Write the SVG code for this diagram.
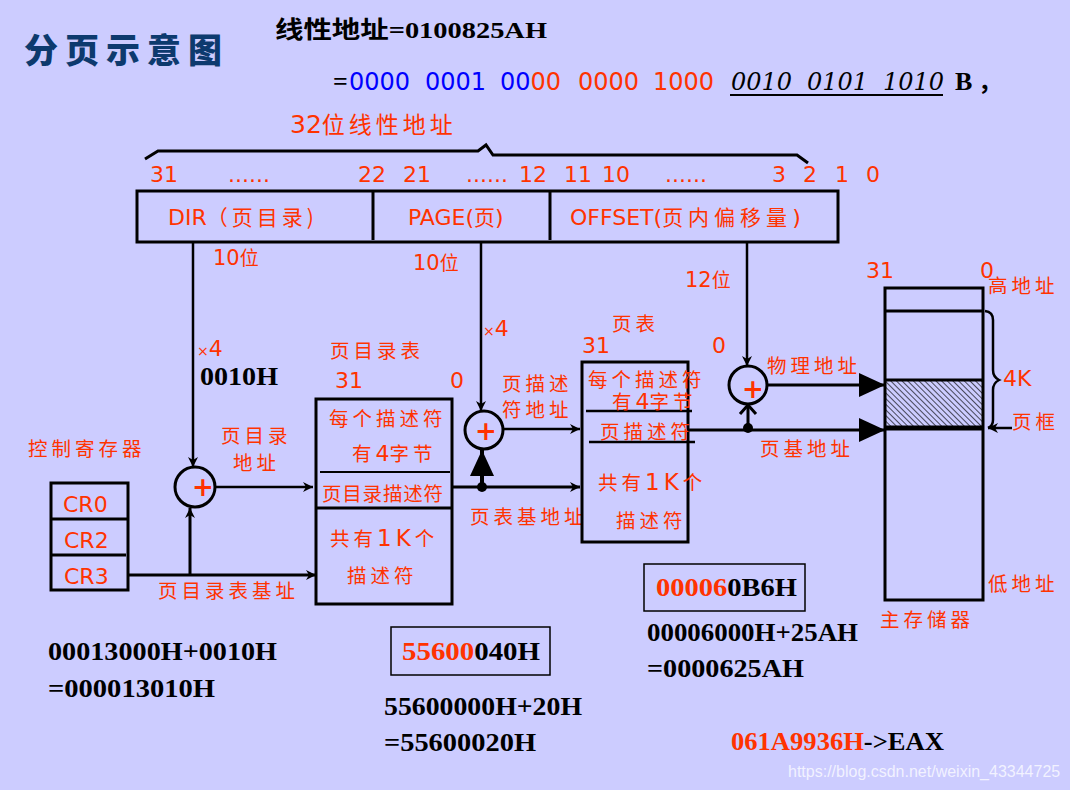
<svg xmlns="http://www.w3.org/2000/svg" width="1070" height="790" viewBox="0 0 1070 790">
<style>
.r{fill:#FF3300;font-family:"DejaVu Sans","Noto Sans CJK SC",sans-serif}
.c{fill:#FF3300;font-family:"Noto Sans CJK SC",sans-serif;font-size:19.5px;letter-spacing:4px}
.b{fill:#000;font-family:"Liberation Serif","Noto Sans CJK SC",serif;font-weight:bold;font-size:26px}
.ln{stroke:#000;fill:none}
.box{stroke:#000;stroke-width:3;fill:none}
</style>
<defs>
<marker id="a" markerUnits="userSpaceOnUse" markerWidth="10" markerHeight="10" refX="10" refY="5" orient="auto"><path d="M0,0 L10,5 L0,10 L3,5 z" fill="#000"/></marker>
<marker id="big" markerUnits="userSpaceOnUse" markerWidth="26" markerHeight="24" refX="26" refY="12" orient="auto"><path d="M0,0 L26,12 L0,24 z" fill="#000"/></marker>
<pattern id="hatch" width="4" height="4" patternUnits="userSpaceOnUse" patternTransform="rotate(-45)"><line x1="0" y1="0" x2="0" y2="4" stroke="#000" stroke-width="1.3"/></pattern>
</defs>
<rect width="1070" height="790" fill="#CCCCFF"/>

<g id="title">
<text x="24" y="63" font-family="Noto Sans CJK SC,sans-serif" font-weight="900" font-size="34" fill="#0D3A6E" letter-spacing="7">分页示意图</text>
</g>
<g id="linear-address">
<text x="275" y="38" font-family="Liberation Serif,Noto Sans CJK SC,serif" font-weight="bold" font-size="24" fill="#000" textLength="272" lengthAdjust="spacingAndGlyphs">线性地址=0100825AH</text>
<text x="333" y="90" font-family="Liberation Serif,serif" font-weight="bold" font-size="26" fill="#000">=</text>
<g font-family="DejaVu Sans,sans-serif" font-size="24">
<text x="349" y="90" fill="#0000FF">0000</text>
<text x="425" y="90" fill="#0000FF">0001</text>
<text x="500" y="90" fill="#0000FF">00<tspan fill="#FF3300">00</tspan></text>
<text x="578" y="90" fill="#FF3300">0000</text>
<text x="653" y="90" fill="#FF3300">1000</text>
</g>
<g font-family="DejaVu Serif,serif" font-style="italic" font-size="24" fill="#000">
<text x="731" y="90">0010</text>
<text x="807" y="90">0101</text>
<text x="883" y="90">1010</text>
</g>
<line x1="730" y1="95" x2="943" y2="95" stroke="#000" stroke-width="2"/>
<text x="955" y="90" font-family="Liberation Serif,serif" font-weight="bold" font-size="26" fill="#000">B</text>
<text x="978" y="90" font-family="Noto Sans CJK SC,sans-serif" font-weight="bold" font-size="24" fill="#000">，</text>
</g>

<g id="bits-label">
<text x="290" y="133" class="r" font-size="25">32<tspan font-family="Noto Sans CJK SC,sans-serif" font-size="23" letter-spacing="4">位线性地址</tspan></text>
<path class="ln" stroke-width="3" d="M145,159 L158,151 L478,151 L486,145 L493,155 L797,155 L808,163"/>
<g class="r" font-size="22">
<text x="150" y="182">31</text><text x="228" y="182">......</text>
<text x="358" y="182">22</text><text x="403" y="182">21</text>
<text x="466" y="182">......</text><text x="519" y="182">12</text>
<text x="564" y="182">11</text><text x="602" y="182">10</text>
<text x="665" y="182">......</text>
<text x="772" y="182">3</text><text x="803" y="182">2</text><text x="835" y="182">1</text><text x="866" y="182">0</text>
</g>
</g>

<g id="address-fields">
<rect x="137" y="191" width="701" height="51" class="box"/>
<line x1="373" y1="191" x2="373" y2="240" stroke="#000" stroke-width="3"/>
<line x1="550" y1="191" x2="550" y2="240" stroke="#000" stroke-width="3"/>
<text x="168" y="225" class="r" font-size="22">DIR<tspan font-family="Noto Sans CJK SC,sans-serif" font-size="21" letter-spacing="4">（页目录)</tspan></text>
<text x="408" y="225" class="r" font-size="22">PAGE(<tspan font-family="Noto Sans CJK SC,sans-serif" font-size="21">页</tspan>)</text>
<text x="570" y="225" class="r" font-size="22">OFFSET(<tspan font-family="Noto Sans CJK SC,sans-serif" font-size="21" letter-spacing="5">页内偏移量</tspan>)</text>
</g>

<g id="labels">
<text x="213" y="265" class="r" font-size="21">10<tspan font-family="Noto Sans CJK SC,sans-serif" font-size="19">位</tspan></text>
<text x="413" y="270" class="r" font-size="21">10<tspan font-family="Noto Sans CJK SC,sans-serif" font-size="19">位</tspan></text>
<text x="685" y="287" class="r" font-size="21">12<tspan font-family="Noto Sans CJK SC,sans-serif" font-size="19">位</tspan></text>
<text x="197" y="356" class="r" font-size="22"><tspan font-size="14">×</tspan>4</text>
<text x="483" y="336" class="r" font-size="22"><tspan font-size="14">×</tspan>4</text>
<text x="200" y="385" class="b" font-size="24" textLength="78" lengthAdjust="spacingAndGlyphs">0010H</text>
<text x="28" y="456" class="c" letter-spacing="5">控制寄存器</text>
<text x="221" y="443" class="c" letter-spacing="7">页目录</text>
<text x="233" y="470" class="c">地址</text>
<text x="158" y="598" class="c" letter-spacing="4">页目录表基址</text>
<text x="502" y="391" class="c">页描述</text>
<text x="502" y="417" class="c">符地址</text>
<text x="470" y="524" class="c">页表基地址</text>
<text x="767" y="373" class="c">物理地址</text>
<text x="760" y="456" class="c">页基地址</text>
</g>

<g id="control-registers">
<rect x="51" y="483" width="77" height="107" class="box"/>
<line x1="51" y1="519" x2="128" y2="519" stroke="#000" stroke-width="3"/>
<line x1="51" y1="555" x2="126" y2="555" stroke="#000" stroke-width="3"/>
<text x="63" y="512" class="r" font-size="22">CR0</text>
<text x="64" y="548" class="r" font-size="22">CR2</text>
<text x="64" y="584" class="r" font-size="22">CR3</text>
</g>

<g id="page-directory">
<text x="330" y="358" class="c" letter-spacing="6">页目录表</text>
<text x="335" y="388" class="r" font-size="22">31</text>
<text x="450" y="388" class="r" font-size="22">0</text>
<rect x="316" y="399" width="136" height="205" class="box"/>
<line x1="320" y1="472" x2="450" y2="472" stroke="#000" stroke-width="2"/>
<line x1="316" y1="508" x2="452" y2="508" stroke="#000" stroke-width="3"/>
<text x="329" y="426" class="c" letter-spacing="2">每个描述符</text>
<text x="352" y="461" class="c"><tspan>有</tspan><tspan class="r" font-size="22" letter-spacing="0">4</tspan>字节</text>
<text x="322" y="501" class="c" font-size="17" letter-spacing="0" textLength="125" lengthAdjust="spacing">页目录描述符</text>
<text x="330" y="546" class="c" letter-spacing="0">共有<tspan class="r" font-size="23">1K</tspan>个</text>
<text x="347" y="583" class="c">描述符</text>
</g>

<g id="page-table">
<text x="612" y="331" class="c" letter-spacing="6">页表</text>
<text x="582" y="353" class="r" font-size="22">31</text>
<text x="712" y="353" class="r" font-size="22">0</text>
<rect x="582" y="362" width="106" height="180" class="box"/>
<line x1="586" y1="411" x2="692" y2="411" stroke="#000" stroke-width="2.5"/>
<line x1="589" y1="442" x2="695" y2="442" stroke="#000" stroke-width="2.5"/>
<text x="588" y="387" class="c" letter-spacing="0.5">每个描述符</text>
<text x="612" y="409" class="c" letter-spacing="1">有<tspan class="r" font-size="22" letter-spacing="0">4</tspan>字节</text>
<text x="600" y="439" class="c" letter-spacing="1.5">页描述符</text>
<text x="598" y="490" class="c" letter-spacing="0">共有<tspan class="r" font-size="23">1K</tspan>个</text>
<text x="616" y="528" class="c">描述符</text>
</g>

<g id="memory">
<text x="866" y="278" class="r" font-size="22">31</text>
<text x="980" y="278" class="r" font-size="22">0</text>
<rect x="885" y="288" width="98" height="312" class="box"/>
<line x1="885" y1="311" x2="983" y2="311" stroke="#000" stroke-width="3"/>
<rect x="886" y="380" width="96" height="47" fill="url(#hatch)"/>
<line x1="885" y1="380" x2="983" y2="380" stroke="#000" stroke-width="3"/>
<line x1="885" y1="428" x2="983" y2="428" stroke="#000" stroke-width="5"/>
<text x="988" y="293" class="c" letter-spacing="2">高地址</text>
<path class="ln" stroke-width="2.5" d="M985,311 Q993,312 993,320 L993,370 Q993,377 999,380 Q993,383 993,390 L993,420 Q993,426 988,428"/>
<text x="1003" y="386" class="r" font-size="22">4K</text>
<text x="1012" y="429" class="c" letter-spacing="6">页框</text>
<line x1="1012" y1="428" x2="988" y2="428" stroke="#000" stroke-width="2.5" marker-end="url(#a)"/>
<text x="988" y="591" class="c" letter-spacing="2">低地址</text>
<text x="880" y="627" class="c" letter-spacing="6">主存储器</text>
</g>

<g id="adder1">
<circle cx="195" cy="487" r="20" fill="none" stroke="#000" stroke-width="3"/>
<text x="203" y="496" font-family="DejaVu Sans,sans-serif" font-weight="bold" font-size="26" fill="#FF3300" text-anchor="middle">+</text>
</g>
<g id="adder2">
<circle cx="484" cy="430" r="19" fill="none" stroke="#000" stroke-width="3"/>
<text x="486" y="440" font-family="DejaVu Sans,sans-serif" font-weight="bold" font-size="26" fill="#FF3300" text-anchor="middle">+</text>
</g>
<g id="adder3">
<circle cx="748" cy="385" r="19" fill="none" stroke="#000" stroke-width="3"/>
<text x="753" y="398" font-family="DejaVu Sans,sans-serif" font-weight="bold" font-size="26" fill="#FF3300" text-anchor="middle">+</text>
</g>

<g id="connectors">
<line x1="193" y1="242" x2="193" y2="467" stroke="#000" stroke-width="2.5" marker-end="url(#a)"/>
<line x1="481" y1="242" x2="481" y2="411" stroke="#000" stroke-width="2.5" marker-end="url(#a)"/>
<line x1="747" y1="242" x2="747" y2="366" stroke="#000" stroke-width="2.5" marker-end="url(#a)"/>
<line x1="128" y1="575" x2="316" y2="575" stroke="#000" stroke-width="3" marker-end="url(#a)"/>
<line x1="190" y1="575" x2="190" y2="508" stroke="#000" stroke-width="3" marker-end="url(#a)"/>
<line x1="215" y1="487" x2="313" y2="487" stroke="#000" stroke-width="2.5" marker-end="url(#a)"/>
<line x1="452" y1="487" x2="580" y2="487" stroke="#000" stroke-width="3" marker-end="url(#a)"/>
<circle cx="482" cy="487" r="5" fill="#000"/>
<line x1="482" y1="487" x2="482" y2="450" stroke="#000" stroke-width="4" marker-end="url(#big)"/>
<line x1="503" y1="429" x2="580" y2="429" stroke="#000" stroke-width="2.5" marker-end="url(#a)"/>
<line x1="688" y1="430" x2="885" y2="430" stroke="#000" stroke-width="3" marker-end="url(#big)"/>
<circle cx="748" cy="428" r="5" fill="#000"/>
<line x1="748" y1="428" x2="748" y2="406" stroke="#000" stroke-width="3"/>
<path class="ln" stroke-width="3" d="M740,414 L748,405 L756,414"/>
<line x1="767" y1="385" x2="885" y2="385" stroke="#000" stroke-width="3" marker-end="url(#big)"/>
</g>

<g id="calculations">
<text x="48" y="660" class="b" textLength="229" lengthAdjust="spacingAndGlyphs">00013000H+0010H</text>
<text x="48" y="697" class="b" textLength="167" lengthAdjust="spacingAndGlyphs">=000013010H</text>
<rect x="391" y="627" width="159" height="48" fill="none" stroke="#000" stroke-width="1.5"/>
<text x="402" y="660" class="b" textLength="138" lengthAdjust="spacingAndGlyphs"><tspan fill="#FF3300">55600</tspan>040H</text>
<text x="384" y="715" class="b" textLength="198" lengthAdjust="spacingAndGlyphs">55600000H+20H</text>
<text x="384" y="751" class="b" textLength="152" lengthAdjust="spacingAndGlyphs">=55600020H</text>
<rect x="644" y="564" width="161" height="47" fill="none" stroke="#000" stroke-width="1.5"/>
<text x="656" y="596" class="b" textLength="141" lengthAdjust="spacingAndGlyphs"><tspan fill="#FF3300">00006</tspan>0B6H</text>
<text x="647" y="641" class="b" textLength="211" lengthAdjust="spacingAndGlyphs">00006000H+25AH</text>
<text x="647" y="677" class="b" textLength="157" lengthAdjust="spacingAndGlyphs">=0000625AH</text>
<text x="731" y="750" class="b" textLength="213" lengthAdjust="spacingAndGlyphs"><tspan fill="#FF3300">061A9936H</tspan>-&gt;EAX</text>
</g>
<text x="788" y="777" font-family="Liberation Sans,sans-serif" font-size="16" fill="#FFFFFF" fill-opacity="0.75">https://blog.csdn.net/weixin_43344725</text>
</svg>
